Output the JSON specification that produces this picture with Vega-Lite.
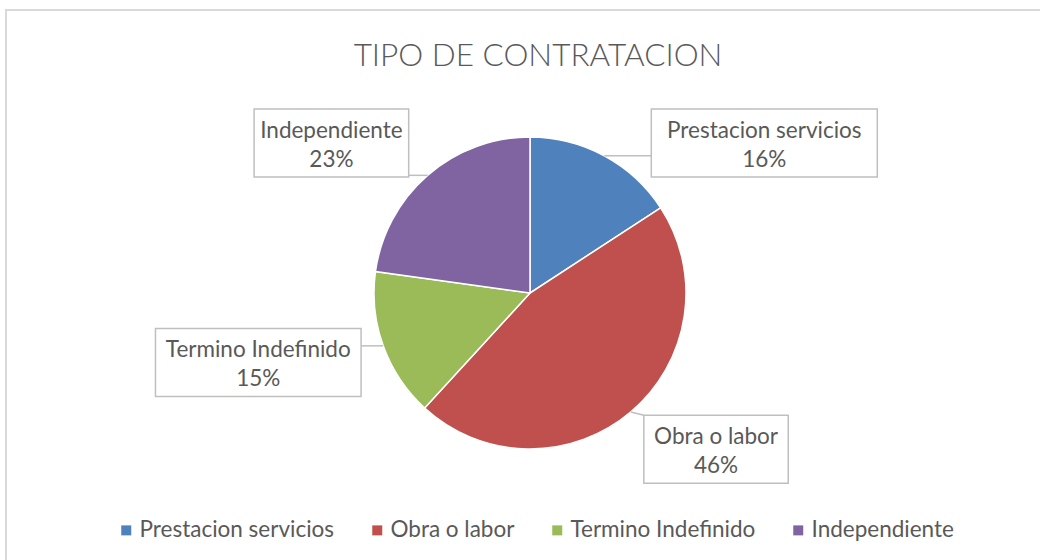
{
  "$schema": "https://vega.github.io/schema/vega-lite/v6.json",
  "width": 1036,
  "height": 552,
  "autosize": {"type": "none"},
  "padding": {"left": 6, "top": 10, "right": -2, "bottom": -2},
  "background": "white",
  "title": {
    "text": "TIPO DE CONTRATACION",
    "anchor": "middle",
    "offset": -62,
    "dx": 14,
    "fontSize": 31.5,
    "font": "Lato",
    "fontWeight": 300,
    "color": "#595959"
  },
  "data": {
    "values": [
      {"tipo": "Prestacion servicios", "valor": 15.8},
      {"tipo": "Obra o labor", "valor": 46.0},
      {"tipo": "Termino Indefinido", "valor": 15.4},
      {"tipo": "Independiente", "valor": 22.8}
    ]
  },
  "transform": [
    {"joinaggregate": [{"op": "sum", "field": "valor", "as": "total"}]},
    {"window": [{"op": "sum", "field": "valor", "as": "cum"}], "frame": [null, 0]},
    {"calculate": "datum.cum / datum.total", "as": "a1"},
    {"calculate": "(datum.cum - datum.valor) / datum.total", "as": "a0"},
    {"calculate": "PI * (datum.a0 + datum.a1)", "as": "mid"},
    {"calculate": "sin(datum.mid)", "as": "s"},
    {"calculate": "cos(datum.mid)", "as": "c"},
    {"calculate": "156 * datum.s", "as": "ax"},
    {"calculate": "156 * datum.c", "as": "ay"},
    {"calculate": "(10.2 * length(datum.tipo) + 22) / 2", "as": "hw"},
    {"calculate": "clamp(205 * datum.c, -160, 150)", "as": "cy"},
    {"calculate": "max(0, abs(datum.cy) - 34)", "as": "yn"},
    {"calculate": "datum.yn < 156 ? sqrt(156 * 156 - datum.yn * datum.yn) : 0", "as": "ph"},
    {"calculate": "(datum.s < 0 ? -1 : 1) * (datum.ph + 17 + datum.hw)", "as": "cx"},
    {"calculate": "datum.cx - datum.hw", "as": "bx1"},
    {"calculate": "datum.cx + datum.hw", "as": "bx2"},
    {"calculate": "datum.cy - 34", "as": "by1"},
    {"calculate": "datum.cy + 34", "as": "by2"},
    {"calculate": "clamp(datum.ax, datum.bx1, datum.bx2)", "as": "lx"},
    {"calculate": "clamp(datum.ay, datum.by1, datum.by2)", "as": "ly"},
    {"calculate": "datum.tipo + '\\n' + format(datum.valor / datum.total, '.0%')", "as": "etiqueta"}
  ],
  "layer": [
    {
      "mark": {"type": "arc", "outerRadius": 156, "stroke": "white", "strokeWidth": 1.5},
      "encoding": {
        "x": {"datum": 0, "type": "quantitative", "scale": {"domain": [-524, 512], "nice": false, "zero": false}, "axis": null},
        "y": {"datum": 0, "type": "quantitative", "scale": {"domain": [-269, 283], "nice": false, "zero": false}, "axis": null},
        "theta": {"field": "a0", "type": "quantitative", "scale": {"domain": [0, 1]}, "stack": null},
        "theta2": {"field": "a1"},
        "color": {
          "field": "tipo",
          "type": "nominal",
          "scale": {
            "domain": ["Prestacion servicios", "Obra o labor", "Termino Indefinido", "Independiente"],
            "range": ["#4F81BD", "#C0504D", "#9BBB59", "#8064A2"]
          },
          "legend": {
            "title": null,
            "orient": "none",
            "legendX": 109,
            "legendY": 509,
            "direction": "horizontal",
            "columns": 4,
            "symbolType": "square",
            "symbolSize": 100,
            "symbolStrokeWidth": 0,
            "labelFont": "Lato",
            "labelFontSize": 22.5,
            "labelColor": "#595959",
            "labelOffset": 2,
            "labelLimit": 400,
            "columnPadding": 31
          }
        }
      }
    },
    {
      "mark": {"type": "rule", "stroke": "#BFBFBF", "strokeWidth": 1.5},
      "encoding": {
        "x": {"field": "ax", "type": "quantitative", "scale": {"domain": [-524, 512], "nice": false, "zero": false}, "axis": null},
        "y": {"field": "ay", "type": "quantitative", "scale": {"domain": [-269, 283], "nice": false, "zero": false}, "axis": null},
        "x2": {"field": "lx"},
        "y2": {"field": "ly"}
      }
    },
    {
      "mark": {"type": "rect", "fill": "white", "stroke": "#BFBFBF", "strokeWidth": 1.5},
      "encoding": {
        "x": {"field": "bx1", "type": "quantitative", "scale": {"domain": [-524, 512], "nice": false, "zero": false}, "axis": null},
        "x2": {"field": "bx2"},
        "y": {"field": "by1", "type": "quantitative", "scale": {"domain": [-269, 283], "nice": false, "zero": false}, "axis": null},
        "y2": {"field": "by2"}
      }
    },
    {
      "mark": {"type": "text", "font": "Lato", "fontSize": 22.5, "color": "#595959", "align": "center", "baseline": "middle", "lineBreak": "\n", "lineHeight": 29, "dy": -12},
      "encoding": {
        "x": {"field": "cx", "type": "quantitative", "scale": {"domain": [-524, 512], "nice": false, "zero": false}, "axis": null},
        "y": {"field": "cy", "type": "quantitative", "scale": {"domain": [-269, 283], "nice": false, "zero": false}, "axis": null},
        "text": {"field": "etiqueta"}
      }
    }
  ],
  "config": {
    "view": {"stroke": "#D9D9D9", "strokeWidth": 2}
  }
}
